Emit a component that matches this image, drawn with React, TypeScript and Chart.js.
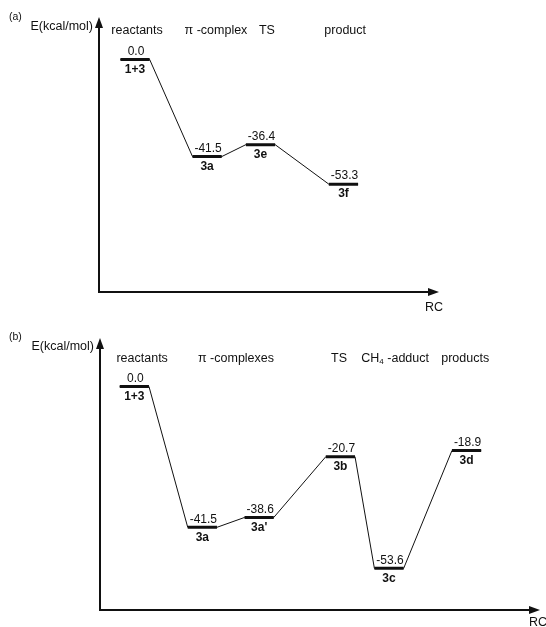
import React, { useEffect, useRef } from "react";
import { Chart, registerables } from "chart.js";

Chart.register(...registerables);

// ---------- Panel (a) data ----------
const namesA = ["1+3", "3a", "3e", "3f"];
const energiesA = [0.0, -41.5, -36.4, -53.3];
const rcA = [1.06, 3.18, 4.75, 7.19];
const headersA = ["reactants", "π -complex", "TS", "product"];
const headerRcA = [1.12, 3.44, 4.94, 7.24];

// ---------- Panel (b) data ----------
const namesB = ["1+3", "3a", "3a'", "3b", "3c", "3d"];
const energiesB = [0.0, -41.5, -38.6, -20.7, -53.6, -18.9];
const rcB = [1.01, 3.01, 4.68, 7.07, 8.5, 10.78];
const headersB = ["reactants", "π -complexes", "TS", "CH₄ -adduct", "products"];
const headerRcB = [1.24, 4.0, 7.03, 8.68, 10.74];

const HALF = 0.43; // half width of an energy level (RC units)
const FONT = "'Liberation Sans', Arial, Helvetica, sans-serif";
const FS = 12.5;
const INK = "#111";

type PanelCfg = {
  letter: string;
  names: string[];
  energies: number[];
  rc: number[];
  headers: string[];
  headerRc: number[];
  height: number;
  xMax: number;
  yMin: number;
  yMax: number;
  padding: { left: number; right: number; top: number; bottom: number };
  headerY: number;
  rcLabel: { x: number; y: number; align: CanvasTextAlign };
};

function drawRich(ctx: CanvasRenderingContext2D, text: string, cx: number, cy: number) {
  const parts = text.split("₄");
  ctx.font = `${FS}px ${FONT}`;
  if (parts.length === 1) {
    ctx.textAlign = "center";
    ctx.fillText(text, cx, cy);
    return;
  }
  const w1 = ctx.measureText(parts[0]).width;
  ctx.font = `8px ${FONT}`;
  const ws = ctx.measureText("4").width;
  ctx.font = `${FS}px ${FONT}`;
  const w2 = ctx.measureText(parts[1]).width;
  let x = cx - (w1 + ws + w2) / 2;
  ctx.textAlign = "left";
  ctx.fillText(parts[0], x, cy);
  x += w1;
  ctx.font = `8px ${FONT}`;
  ctx.fillText("4", x, cy + 3);
  x += ws;
  ctx.font = `${FS}px ${FONT}`;
  ctx.fillText(parts[1], x, cy);
}

function makeOverlay(cfg: PanelCfg) {
  return {
    id: "overlay" + cfg.letter,
    afterDraw(chart: any) {
      const ctx: CanvasRenderingContext2D = chart.ctx;
      const { left: L, right: R, top: T, bottom: B } = chart.chartArea;
      const xs = chart.scales.x;
      const ys = chart.scales.y;
      ctx.save();
      ctx.fillStyle = INK;
      ctx.strokeStyle = INK;

      // axes
      ctx.lineWidth = 2;
      ctx.beginPath();
      ctx.moveTo(L, B + 1);
      ctx.lineTo(L, T + 8);
      ctx.moveTo(L - 1, B);
      ctx.lineTo(R - 8, B);
      ctx.stroke();
      ctx.beginPath();
      ctx.moveTo(L, T);
      ctx.lineTo(L - 4, T + 11);
      ctx.lineTo(L + 4, T + 11);
      ctx.closePath();
      ctx.fill();
      ctx.beginPath();
      ctx.moveTo(R, B);
      ctx.lineTo(R - 11, B - 4);
      ctx.lineTo(R - 11, B + 4);
      ctx.closePath();
      ctx.fill();

      ctx.textBaseline = "middle";
      // panel letter
      ctx.font = `10.5px ${FONT}`;
      ctx.textAlign = "left";
      ctx.fillText(`(${cfg.letter})`, 9, 17);
      // y axis title
      ctx.font = `${FS}px ${FONT}`;
      ctx.textAlign = "right";
      ctx.fillText("E(kcal/mol)", L - 6, 27);
      // x axis title
      ctx.textAlign = cfg.rcLabel.align;
      ctx.fillText("RC", cfg.rcLabel.x, cfg.rcLabel.y);

      // headers
      cfg.headers.forEach((h, i) => {
        drawRich(ctx, h, xs.getPixelForValue(cfg.headerRc[i]), cfg.headerY);
      });

      // level labels
      ctx.textAlign = "center";
      cfg.energies.forEach((e, i) => {
        const px = xs.getPixelForValue(cfg.rc[i]);
        const py = ys.getPixelForValue(e);
        ctx.font = `12px ${FONT}`;
        ctx.fillText(e.toFixed(1), px + 1, py - 8);
        ctx.font = `bold 12px ${FONT}`;
        ctx.fillText(cfg.names[i], px, py + 10);
      });
      ctx.restore();
    },
  };
}

function Panel({ cfg }: { cfg: PanelCfg }) {
  const ref = useRef<HTMLCanvasElement>(null);
  useEffect(() => {
    const path = cfg.energies.flatMap((e, i) => [
      { x: cfg.rc[i] - HALF, y: e },
      { x: cfg.rc[i] + HALF, y: e },
    ]);
    const bars = cfg.energies.flatMap((e, i) => [
      { x: cfg.rc[i] - HALF, y: e },
      { x: cfg.rc[i] + HALF, y: e },
      { x: cfg.rc[i] + HALF + 0.01, y: null as any },
    ]);
    const chart = new Chart(ref.current!, {
      type: "line",
      data: {
        datasets: [
          {
            data: path,
            borderColor: INK,
            borderWidth: 1,
            pointRadius: 0,
            tension: 0,
            fill: false,
          },
          {
            data: bars,
            borderColor: INK,
            borderWidth: 3,
            pointRadius: 0,
            tension: 0,
            spanGaps: false,
            fill: false,
            borderCapStyle: "butt",
          },
        ],
      },
      options: {
        responsive: false,
        animation: false,
        events: [],
        layout: { padding: cfg.padding },
        plugins: {
          legend: { display: false },
          tooltip: { enabled: false },
          title: { display: false },
        },
        scales: {
          x: { type: "linear", display: false, min: 0, max: cfg.xMax },
          y: { type: "linear", display: false, min: cfg.yMin, max: cfg.yMax },
        },
      },
      plugins: [makeOverlay(cfg)],
    });
    return () => chart.destroy();
  }, [cfg]);
  return (
    <canvas
      ref={ref}
      width={546}
      height={cfg.height}
      style={{ display: "block", width: 546, height: cfg.height }}
    />
  );
}

const cfgA: PanelCfg = {
  letter: "a",
  names: namesA,
  energies: energiesA,
  rc: rcA,
  headers: headersA,
  headerRc: headerRcA,
  height: 320,
  xMax: 10,
  yMin: -99.4,
  yMax: 18.17,
  padding: { left: 99, right: 107, top: 17, bottom: 28 },
  headerY: 31,
  rcLabel: { x: 434, y: 308, align: "center" },
};

const cfgB: PanelCfg = {
  letter: "b",
  names: namesB,
  energies: energiesB,
  rc: rcB,
  headers: headersB,
  headerRc: headerRcB,
  height: 307,
  xMax: 12.94,
  yMin: -65.87,
  yMax: 14.29,
  padding: { left: 100, right: 6, top: 18, bottom: 17 },
  headerY: 39,
  rcLabel: { x: 529, y: 303, align: "left" },
};

export default function App() {
  return (
    <div
      style={{
        position: "absolute",
        left: 0,
        top: 0,
        width: 546,
        height: 627,
        background: "#fff",
        overflow: "hidden",
      }}
    >
      <Panel cfg={cfgA} />
      <Panel cfg={cfgB} />
    </div>
  );
}
